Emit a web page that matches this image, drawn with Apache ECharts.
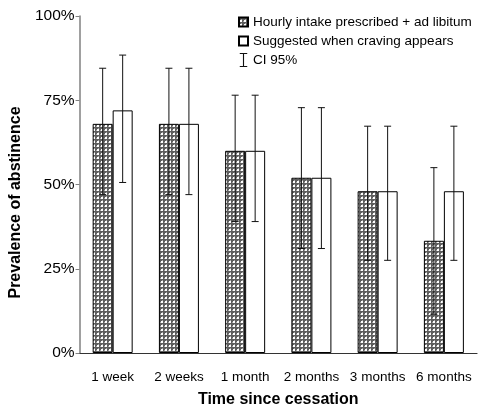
<!DOCTYPE html>
<html>
<head>
<meta charset="utf-8">
<script src="https://cdn.jsdelivr.net/npm/echarts@6/dist/echarts.min.js"></script>
<style>
html,body{margin:0;padding:0;background:#fff;}
#chart{width:480px;height:413px;}
</style>
</head>
<body>
<div id="chart"></div>
<script>
// ---- data ----
const categories = ['1 week', '2 weeks', '1 month', '2 months', '3 months', '6 months'];
const seriesNames = ['Hourly intake prescribed + ad libitum', 'Suggested when craving appears'];
const ciName = 'CI 95%';
const hourlyValues = [68, 68, 60, 52, 48, 33.3];
const hourlyLow    = [47, 47, 39, 31, 27.5, 11.5];
const hourlyHigh   = [84.5, 84.5, 76.5, 72.8, 67.3, 55];
const cravingValues = [72, 68, 60, 52, 48, 48];
const cravingLow    = [50.6, 47, 39, 31, 27.5, 27.5];
const cravingHigh   = [88.4, 84.5, 76.5, 72.8, 67.3, 67.3];
const yTicks = [0, 25, 50, 75, 100];

// ---- pattern for hatched bars ----
function makePattern() {
  const c = document.createElement('canvas');
  c.width = 4; c.height = 4;
  const ctx = c.getContext('2d');
  ctx.fillStyle = '#5e5e5e';
  ctx.fillRect(0, 0, 4, 4);
  ctx.fillStyle = '#ffffff';
  ctx.fillRect(1, 1, 2, 2);
  ctx.fillStyle = '#a8a8a8';
  ctx.fillRect(0, 2, 1, 1);
  ctx.fillRect(2, 0, 1, 1);
  return c;
}
const hatch = { image: makePattern(), repeat: 'repeat' };

const ciData = [];
categories.forEach((c, i) => {
  ciData.push([i, hourlyLow[i], hourlyHigh[i], -1]);
  ciData.push([i, cravingLow[i], cravingHigh[i], 1]);
});

const chart = echarts.init(document.getElementById('chart'), null, { renderer: 'canvas' });
const font = 'Liberation Sans, Arial, sans-serif';
chart.setOption({
  animation: false,
  textStyle: { fontFamily: font },
  grid: { left: 70, right: 3, top: 16, bottom: 55 },
  legend: {
    orient: 'vertical',
    left: 233,
    top: 10,
    itemWidth: 9,
    itemHeight: 14,
    itemGap: 5,
    textStyle: { fontSize: 13.5, color: '#000', fontFamily: font },
    data: [
      { name: seriesNames[0], icon: 'path://M0,0h9v9h-9z' },
      { name: seriesNames[1], icon: 'path://M0,0h9v9h-9z' },
      { name: ciName, icon: 'path://M0,0h8v1.2h-3.4v12.6h3.4v1.2h-8v-1.2h3.4v-12.6h-3.4z' }
    ]
  },
  xAxis: {
    type: 'category',
    data: categories,
    name: 'Time since cessation',
    nameLocation: 'middle',
    nameGap: 39,
    nameTextStyle: { fontSize: 16, fontWeight: 'bold', color: '#000' },
    axisLine: { lineStyle: { color: '#333', width: 1.2 } },
    axisTick: { alignWithLabel: false, length: 4, lineStyle: { color: '#333' } },
    axisLabel: { fontSize: 13.5, color: '#000', margin: 17, interval: 0 }
  },
  yAxis: {
    type: 'value',
    min: 0, max: 100, interval: 25,
    name: 'Prevalence of abstinence',
    nameLocation: 'middle',
    nameGap: 47,
    nameTextStyle: { fontSize: 16, fontWeight: 'bold', color: '#000', padding: [0, 36, 0, 0] },
    axisLine: { show: true, lineStyle: { color: '#808080', width: 1.5 } },
    axisTick: { show: true, length: 4, lineStyle: { color: '#808080' } },
    splitLine: { show: false },
    axisLabel: { fontSize: 15.5, color: '#000', margin: 5,
      formatter: v => yTicks.includes(v) ? v + '%' : '' }
  },
  series: [
    {
      name: seriesNames[0], type: 'bar', data: hourlyValues,
      barWidth: 20, barGap: '0%',
      itemStyle: { color: hatch, borderColor: '#000', borderWidth: 1 }
    },
    {
      name: seriesNames[1], type: 'bar', data: cravingValues,
      barWidth: 20, barGap: '0%',
      itemStyle: { color: '#fff', borderColor: '#000', borderWidth: 1 }
    },
    {
      name: ciName, type: 'custom', z: 10,
      itemStyle: { color: '#111' },
      data: ciData,
      encode: { x: 0, y: [1, 2] },
      renderItem: function (params, api) {
        const i = api.value(0);
        const lo = api.coord([i, api.value(1)]);
        const hi = api.coord([i, api.value(2)]);
        const x = lo[0] + api.value(3) * 10;
        const cap = 3.5;
        const st = { stroke: '#111', lineWidth: 1, fill: null };
        return {
          type: 'group',
          children: [
            { type: 'line', shape: { x1: x, y1: lo[1], x2: x, y2: hi[1] }, style: st },
            { type: 'line', shape: { x1: x - cap, y1: hi[1], x2: x + cap, y2: hi[1] }, style: st },
            { type: 'line', shape: { x1: x - cap, y1: lo[1], x2: x + cap, y2: lo[1] }, style: st }
          ]
        };
      }
    }
  ]
});
</script>
</body>
</html>
